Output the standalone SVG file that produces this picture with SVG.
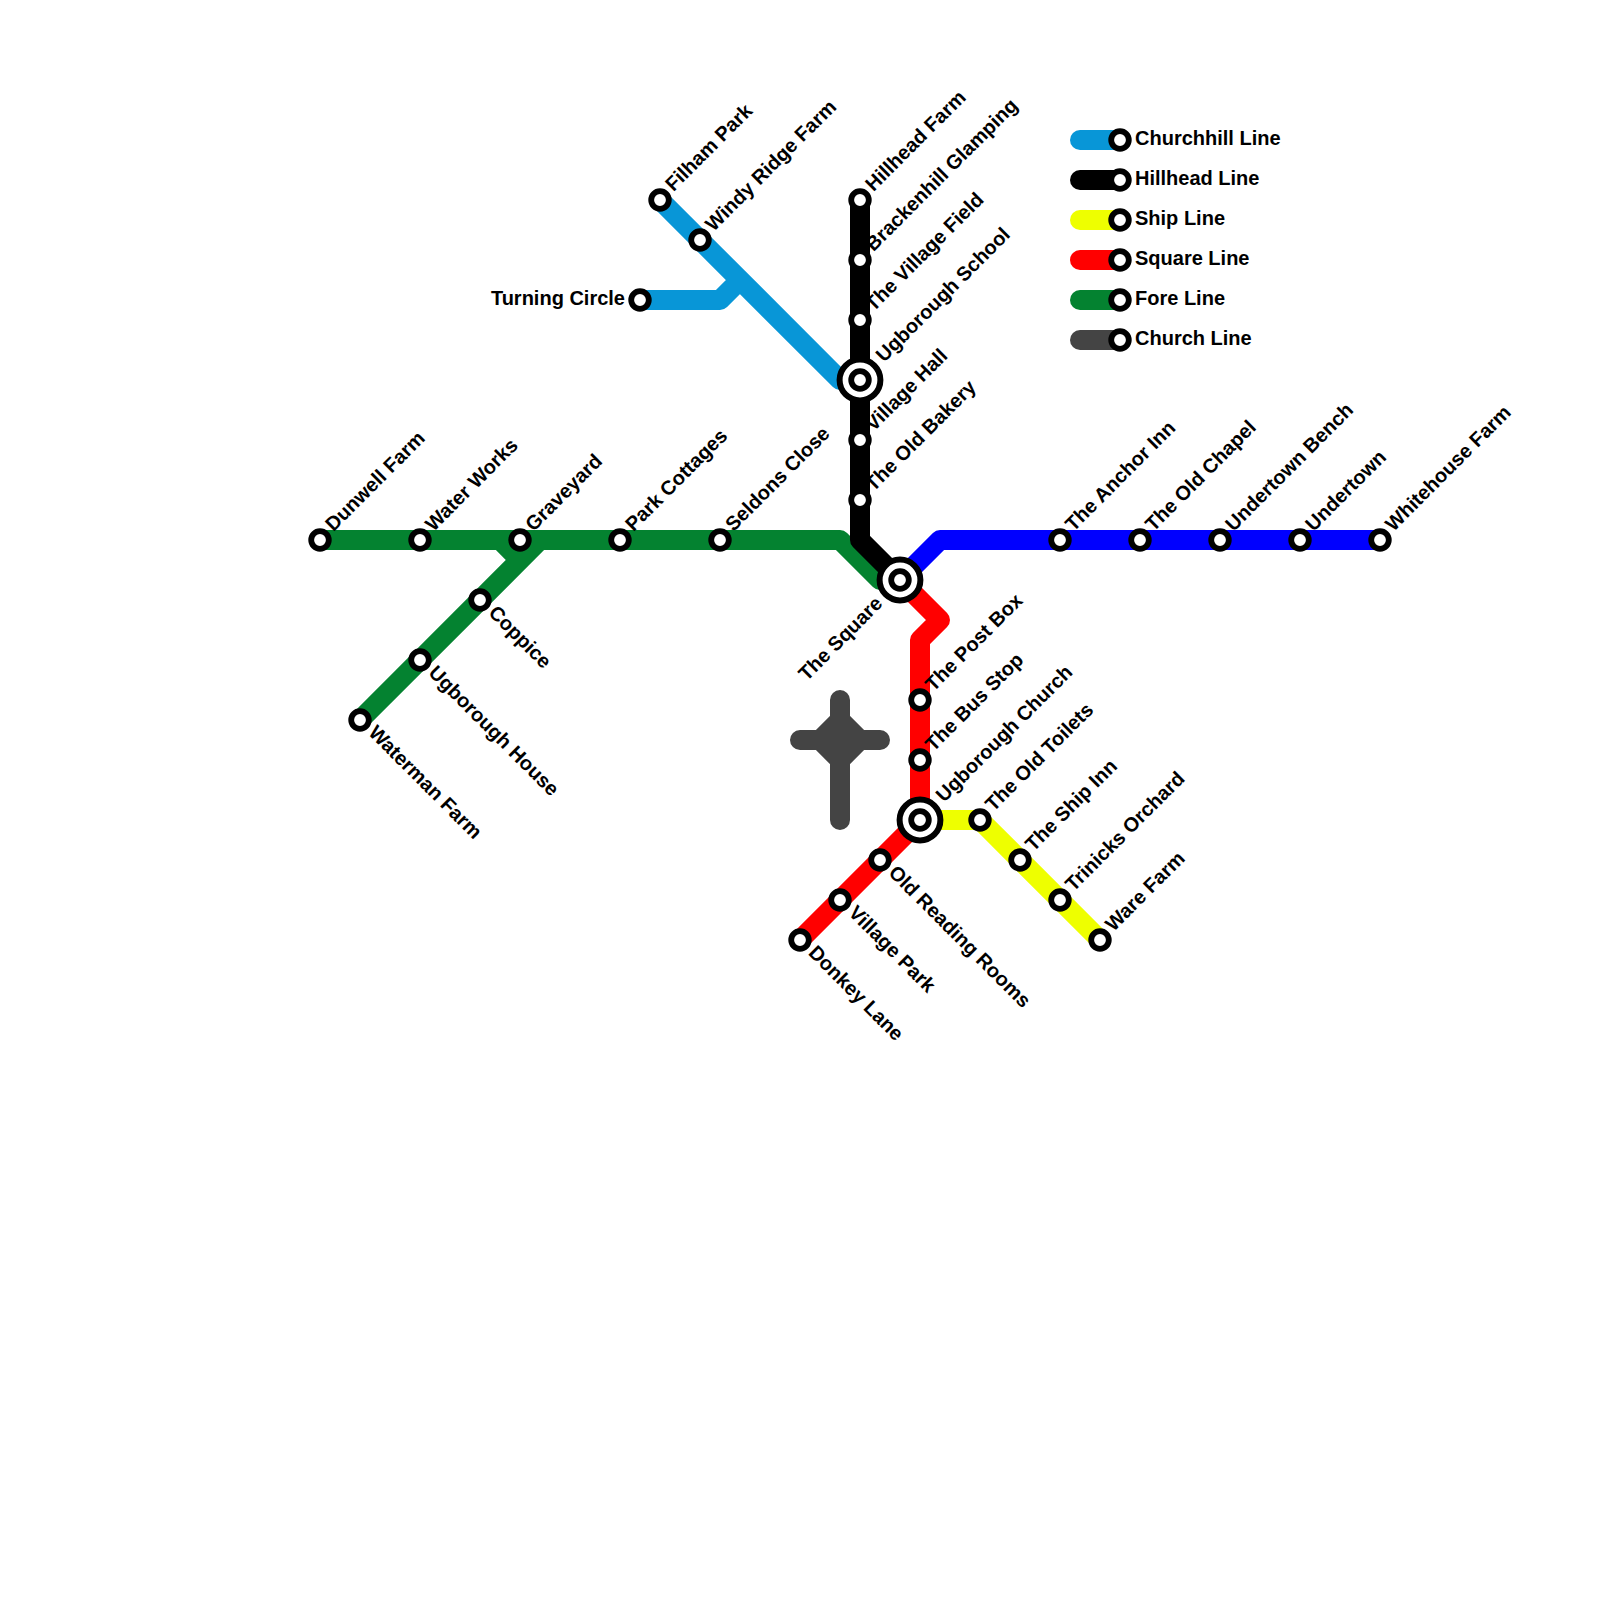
<svg xmlns="http://www.w3.org/2000/svg" width="1600" height="1600" viewBox="0 0 1600 1600">
<style>
.l{fill:none;stroke-width:20;stroke-linecap:round;stroke-linejoin:round}
.s{fill:#fff;stroke:#000;stroke-width:5.8}
.b{fill:#fff;stroke:#000;stroke-width:6}
text{font-family:"Liberation Sans",Arial,sans-serif;font-weight:bold;font-size:20px;fill:#000}
.e{text-anchor:end}
</style>
<defs>
<g id="st"><circle class="s" r="8.8"/></g>
<g id="ic"><circle class="b" r="20.4"/><circle class="s" r="8.8"/></g>
</defs>
<rect width="1600" height="1600" fill="#fff"/>
<g id="connectors">
<path id="church" class="l" stroke="#444444" d="M840 700V820M800 740H880M820 740L840 720L860 740L840 760Z" style="fill:#444444"/>
<path id="fore" class="l" stroke="#048230" d="M320 540H840L880 580H900M360 720L540 540M500 540L520 560"/>
<path id="churchhill" class="l" stroke="#0896d7" d="M660 200L840 380H860M640 300H720L740 280"/>
<path id="hillhead" class="l" stroke="#000000" d="M860 200V540L900 580"/>
<path id="undertown" class="l" stroke="#0000ff" d="M900 580L940 540H1380"/>
<path id="ship" class="l" stroke="#eeff00" d="M920 820H980L1100 940"/>
<path id="square" class="l" stroke="#ff0000" d="M900 580L940 620L920 640V820L800 940"/>
<g id="legend-lines">
<path class="l" stroke="#0896d7" d="M1080 140H1120"/>
<path class="l" stroke="#000000" d="M1080 180H1120"/>
<path class="l" stroke="#eeff00" d="M1080 220H1120"/>
<path class="l" stroke="#ff0000" d="M1080 260H1120"/>
<path class="l" stroke="#048230" d="M1080 300H1120"/>
<path class="l" stroke="#444444" d="M1080 340H1120"/>
</g>
</g>
<g id="n-dunwell"><use href="#st" x="320" y="540"/><text transform="translate(320 540) rotate(-45)" x="15" y="4">Dunwell Farm</text></g>
<g id="n-water"><use href="#st" x="420" y="540"/><text transform="translate(420 540) rotate(-45)" x="15" y="4">Water Works</text></g>
<g id="n-graveyard"><use href="#st" x="520" y="540"/><text transform="translate(520 540) rotate(-45)" x="15" y="4">Graveyard</text></g>
<g id="n-park"><use href="#st" x="620" y="540"/><text transform="translate(620 540) rotate(-45)" x="15" y="4">Park Cottages</text></g>
<g id="n-seldons"><use href="#st" x="720" y="540"/><text transform="translate(720 540) rotate(-45)" x="15" y="4">Seldons Close</text></g>
<g id="n-coppice"><use href="#st" x="480" y="600"/><text transform="translate(480 600) rotate(45)" x="15" y="4.5">Coppice</text></g>
<g id="n-ughouse"><use href="#st" x="420" y="660"/><text transform="translate(420 660) rotate(45)" x="15" y="4.5">Ugborough House</text></g>
<g id="n-waterman"><use href="#st" x="360" y="720"/><text transform="translate(360 720) rotate(45)" x="15" y="4.5">Waterman Farm</text></g>
<g id="n-filham"><use href="#st" x="660" y="200"/><text transform="translate(660 200) rotate(-45)" x="15" y="4">Filham Park</text></g>
<g id="n-windy"><use href="#st" x="700" y="240"/><text transform="translate(700 240) rotate(-45)" x="15" y="4">Windy Ridge Farm</text></g>
<g id="n-turning"><use href="#st" x="640" y="300"/><text class="e" x="625" y="305">Turning Circle</text></g>
<g id="n-hillhead"><use href="#st" x="860" y="200"/><text transform="translate(860 200) rotate(-45)" x="15" y="4">Hillhead Farm</text></g>
<g id="n-bracken"><use href="#st" x="860" y="260"/><text transform="translate(860 260) rotate(-45)" x="15" y="4">Brackenhill Glamping</text></g>
<g id="n-vfield"><use href="#st" x="860" y="320"/><text transform="translate(860 320) rotate(-45)" x="15" y="4">The Village Field</text></g>
<g id="n-ugschool"><use href="#ic" x="860" y="380"/><text transform="translate(860 380) rotate(-45)" x="29" y="5">Ugborough School</text></g>
<g id="n-vhall"><use href="#st" x="860" y="440"/><text transform="translate(860 440) rotate(-45)" x="15" y="4">Village Hall</text></g>
<g id="n-bakery"><use href="#st" x="860" y="500"/><text transform="translate(860 500) rotate(-45)" x="15" y="4">The Old Bakery</text></g>
<g id="n-anchor"><use href="#st" x="1060" y="540"/><text transform="translate(1060 540) rotate(-45)" x="15" y="4">The Anchor Inn</text></g>
<g id="n-chapel"><use href="#st" x="1140" y="540"/><text transform="translate(1140 540) rotate(-45)" x="15" y="4">The Old Chapel</text></g>
<g id="n-bench"><use href="#st" x="1220" y="540"/><text transform="translate(1220 540) rotate(-45)" x="15" y="4">Undertown Bench</text></g>
<g id="n-undertown"><use href="#st" x="1300" y="540"/><text transform="translate(1300 540) rotate(-45)" x="15" y="4">Undertown</text></g>
<g id="n-whitehouse"><use href="#st" x="1380" y="540"/><text transform="translate(1380 540) rotate(-45)" x="15" y="4">Whitehouse Farm</text></g>
<g id="n-square"><use href="#ic" x="900" y="580"/><text class="e" transform="translate(900 580) rotate(-45)" x="-29" y="6">The Square</text></g>
<g id="n-postbox"><use href="#st" x="920" y="700"/><text transform="translate(920 700) rotate(-45)" x="15" y="4">The Post Box</text></g>
<g id="n-busstop"><use href="#st" x="920" y="760"/><text transform="translate(920 760) rotate(-45)" x="15" y="4">The Bus Stop</text></g>
<g id="n-ugchurch"><use href="#ic" x="920" y="820"/><text transform="translate(920 820) rotate(-45)" x="29" y="5">Ugborough Church</text></g>
<g id="n-toilets"><use href="#st" x="980" y="820"/><text transform="translate(980 820) rotate(-45)" x="15" y="4">The Old Toilets</text></g>
<g id="n-shipinn"><use href="#st" x="1020" y="860"/><text transform="translate(1020 860) rotate(-45)" x="15" y="4">The Ship Inn</text></g>
<g id="n-trinicks"><use href="#st" x="1060" y="900"/><text transform="translate(1060 900) rotate(-45)" x="15" y="4">Trinicks Orchard</text></g>
<g id="n-ware"><use href="#st" x="1100" y="940"/><text transform="translate(1100 940) rotate(-45)" x="15" y="4">Ware Farm</text></g>
<g id="n-reading"><use href="#st" x="880" y="860"/><text transform="translate(880 860) rotate(45)" x="15" y="4.5">Old Reading Rooms</text></g>
<g id="n-vpark"><use href="#st" x="840" y="900"/><text transform="translate(840 900) rotate(45)" x="15" y="4.5">Village Park</text></g>
<g id="n-donkey"><use href="#st" x="800" y="940"/><text transform="translate(800 940) rotate(45)" x="15" y="4.5">Donkey Lane</text></g>
<g id="legend">
<use href="#st" x="1120" y="140"/><text x="1135" y="145">Churchhill Line</text>
<use href="#st" x="1120" y="180"/><text x="1135" y="185">Hillhead Line</text>
<use href="#st" x="1120" y="220"/><text x="1135" y="225">Ship Line</text>
<use href="#st" x="1120" y="260"/><text x="1135" y="265">Square Line</text>
<use href="#st" x="1120" y="300"/><text x="1135" y="305">Fore Line</text>
<use href="#st" x="1120" y="340"/><text x="1135" y="345">Church Line</text>
</g>
</svg>
